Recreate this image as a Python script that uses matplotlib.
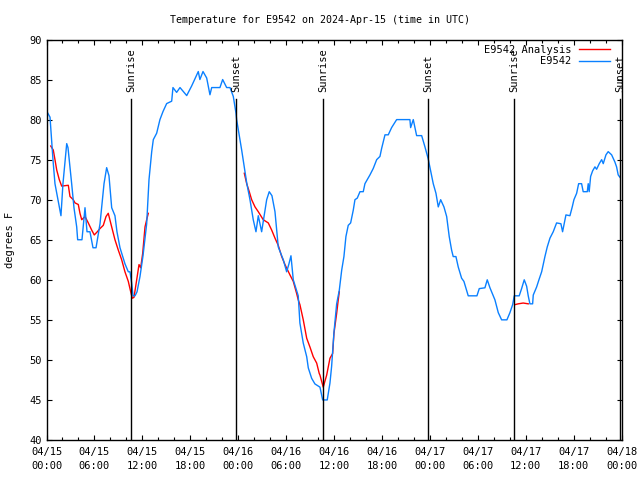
import datetime as dt
import numpy as np
import matplotlib
matplotlib.use("Agg")
import matplotlib.pyplot as plt
import matplotlib.dates as mdates

# hours after 2024-04-15 00:00 UTC
obs_hours = [0.0, 0.44, 0.81, 1.06, 1.44, 1.81, 2.06, 2.53, 2.69, 3.15, 3.44, 3.78, 3.9, 4.44,
             4.82, 5.07, 5.44, 5.82, 6.2, 6.7, 7.2, 7.53, 7.82, 8.16, 8.57, 8.82, 9.2, 9.82,
             10.24, 10.45, 10.66, 10.83, 11.08, 11.33, 11.7, 12.08, 12.54, 12.83, 13.17, 13.37,
             13.79, 14.2, 14.58, 15.04, 15.67, 15.83, 16.29, 16.71, 17.55, 18.17, 19.0, 19.2,
             19.59, 20.05, 20.46, 20.68, 21.71, 22.05, 22.55, 22.97, 23.38, 23.72, 23.8, 24.43,
             25.06, 25.47, 25.88, 26.22, 26.51, 26.93, 27.56, 27.88, 28.22, 28.6, 29.01, 29.64,
             30.06, 30.35, 30.6, 30.89, 31.51, 31.72, 32.14, 32.57, 32.77, 33.19, 33.6, 34.23,
             34.57, 35.14, 35.48, 35.69, 35.98, 36.32, 36.65, 36.95, 37.23, 37.48, 37.77, 38.07,
             38.4, 38.61, 38.9, 39.24, 39.65, 39.86, 40.49, 40.9, 41.33, 41.74, 41.95, 42.37,
             42.78, 43.2, 43.83, 45.49, 45.58, 45.91, 46.33, 46.96, 47.37, 47.78, 48.41, 48.75,
             49.04, 49.34, 49.75, 50.09, 50.41, 50.71, 50.91, 51.25, 51.54, 51.96, 52.25, 52.79,
             53.88, 54.17, 54.88, 55.17, 55.51, 55.92, 56.13, 56.55, 56.97, 57.63, 58.01, 58.35,
             58.55, 59.17, 59.47, 59.8, 60.1, 60.3, 60.51, 60.85, 60.93, 61.35, 61.64, 61.98,
             62.39, 62.68, 63.02, 63.43, 63.85, 64.39, 64.6, 65.02, 65.52, 65.81, 66.02, 66.36,
             66.61, 66.98, 67.18, 67.69, 67.81, 67.93, 68.11, 68.36, 68.65, 68.86, 69.19, 69.49,
             69.69, 70.03, 70.31, 70.74, 71.15, 71.36, 71.56, 71.78]
obs_temp = [81.1, 80.3, 75, 72, 70, 68, 72, 77, 76.5, 72, 69, 66.6, 65, 65,
            69, 66, 66, 64, 64, 67, 72, 74, 73, 69, 68, 66, 64, 62,
            61, 61, 59.6, 58, 58, 58.5, 60.4, 63, 67, 72.5, 76, 77.5,
            78.3, 80, 81, 82, 82.3, 84, 83.4, 84, 83, 84.2, 86, 85,
            86, 85.2, 83.1, 84, 84, 85, 84, 84, 82.9, 80.8, 80, 76.2,
            72.1, 70, 67.5, 66, 68, 66, 70, 71, 70.5, 68.5, 64.1, 62.5,
            61, 62, 63, 60, 58, 54.6, 52.1, 50.4, 49, 47.7, 47, 46.6,
            45, 45, 47.1, 49.2, 53.4, 57, 58.7, 61.2, 62.9, 65.4, 66.8, 67.1,
            68.7, 70, 70.2, 71, 71, 72, 73.1, 73.9, 75, 75.4, 76.4, 78.1,
            78.1, 79, 80, 80, 79, 80, 78, 78, 76.6, 75.1, 72, 70.8,
            69.1, 70, 69.1, 67.9, 65.4, 63.7, 62.9, 62.9, 61.6, 60.2, 59.8, 58,
            58, 58.9, 59, 60, 59, 58, 57.5, 55.9, 55, 55, 55.9, 56.9,
            58, 58, 58.9, 60, 59.2, 58, 57, 57, 58.1, 59.1, 60, 61,
            62.9, 64.1, 65.2, 66, 67.1, 67, 66, 68.1, 68, 69.1, 70, 70.8,
            72, 72, 71, 71, 72, 71, 72.9, 73.6, 74.1, 73.8, 74.5, 75,
            74.5, 75.6, 76, 75.6, 74.7, 74.1, 73.1, 72.8]

# analysis, gaps marked with nan
ana_hours = [0.53, 0.85, 1.06, 1.28, 1.6, 1.9, 2.73, 2.94, 3.35, 3.57, 3.98, 4.19, 4.41, 4.82,
             5.23, 5.66, 5.98, 6.36, 6.7, 7.11, 7.45, 7.73, 8.16, 8.57, 8.99, 9.41, 9.82, 10.24,
             10.54, 10.74, 10.95, 11.29, 11.58, 11.79, 12.04, 12.33, 12.54, 12.74,
             18.0,
             24.76, 25.06, 25.38, 25.68, 26.1, 26.51, 27.13, 27.76, 28.19, 28.6, 29.01, 29.44,
             29.85, 30.48, 30.89, 31.31, 31.51, 31.72, 32.14, 32.57, 32.98, 33.39, 33.82, 34.14,
             34.23, 34.64, 35.07, 35.48, 35.82, 35.98, 36.32, 36.52, 36.65,
             48.0,
             58.64, 59.05, 59.67, 60.3]
ana_temp = [76.7, 76.2, 75, 73.7, 72.5, 71.7, 71.8, 70.4, 70, 69.6, 69.4, 68.3, 67.5, 67.9,
            67.1, 66.2, 65.6, 66, 66.4, 66.8, 67.9, 68.3, 66.6, 65, 63.7, 62.5, 61, 59.8,
            58.5, 57.7, 57.8, 60, 61.9, 61.5, 63.3, 66.6, 67.5, 68.3,
            np.nan,
            73.3, 72, 71, 70, 69.1, 68.5, 67.5, 67.1, 66.2, 65.2, 64.3, 62.9,
            61.9, 60.6, 59.8, 58.3, 57.5, 56.9, 55, 52.7, 51.6, 50.4, 49.6, 48.3,
            48.1, 46.6, 48.1, 50.2, 50.8, 53.3, 55.8, 57.5, 58.5,
            np.nan,
            56.9, 57, 57.1, 57]

sun_hours = [10.62, 23.77, 34.61, 47.79, 58.57, 71.8]
sun_labels = ["Sunrise", "Sunset", "Sunrise", "Sunset", "Sunrise", "Sunset"]

start = dt.datetime(2024, 4, 15)
to_time = lambda hs: [start + dt.timedelta(hours=h) for h in hs]

plt.rcParams['font.family'] = ['DejaVu Sans Mono']
plt.rcParams['font.size'] = 7

fig = plt.figure(figsize=(6.4, 4.8), dpi=100)
ax = fig.add_axes([46.5 / 640, 40 / 480, 575.2 / 640, 400.5 / 480])

ax.plot(to_time(ana_hours), ana_temp, color='#ff0000', lw=1, label='E9542 Analysis')
ax.plot(to_time(obs_hours), obs_temp, color='#0a80ff', lw=1, label='E9542')

for h, lab in zip(sun_hours, sun_labels):
    t = start + dt.timedelta(hours=h)
    ax.plot([t, t], [0, 0.851], color='black', lw=1, transform=ax.get_xaxis_transform())
    ax.text(t, 0.869, lab, rotation=90, ha='center', va='bottom', fontsize=7.5,
            transform=ax.get_xaxis_transform())

ax.set_xlim(start, start + dt.timedelta(hours=72))
ax.set_ylim(40, 90)
ax.set_yticks(range(40, 91, 5))
ax.xaxis.set_major_locator(mdates.HourLocator(byhour=range(0, 24, 6)))
ax.xaxis.set_minor_locator(mdates.HourLocator(byhour=range(0, 24, 2)))
ax.xaxis.set_major_formatter(mdates.DateFormatter('%m/%d\n%H:%M'))
ax.tick_params(which='both', direction='in', top=True, right=True, labelsize=7.5)
ax.tick_params(which='major', length=3.6, width=0.8)
ax.tick_params(which='minor', length=1.9, width=0.8)
ax.tick_params(axis='x', pad=5)
for lbl in ax.get_xticklabels():
    lbl.set_linespacing(1.45)
for s in ax.spines.values():
    s.set_linewidth(1)

ax.set_ylabel('degrees F', labelpad=10, fontsize=7.5)
fig.text(0.5, 1 - 20 / 480, 'Temperature for E9542 on 2024-Apr-15 (time in UTC)',
         ha='center', va='center', fontsize=7.2)

ax.legend(loc='upper right', bbox_to_anchor=(0.9866, 0.997), borderaxespad=0,
          frameon=False, markerfirst=False, handlelength=3.0, handletextpad=0.7,
          labelspacing=0.15, fontsize=7.5)

fig.savefig('out.png', dpi=100)
